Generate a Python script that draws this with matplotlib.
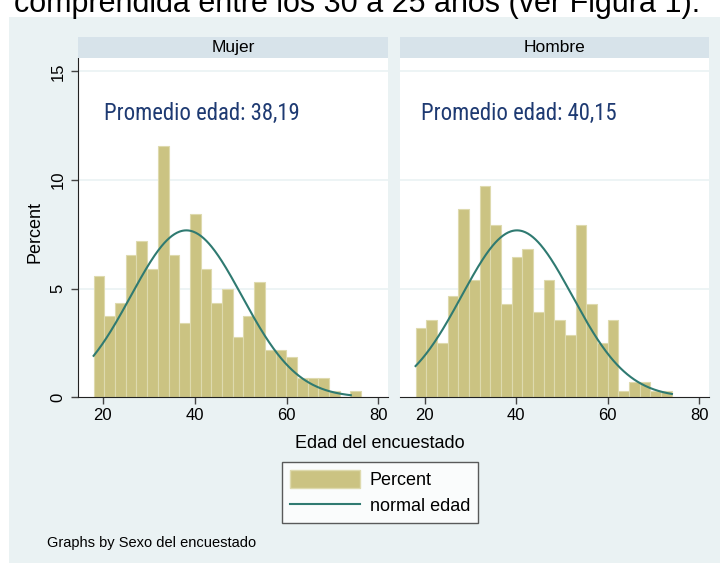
import numpy as np
import matplotlib.pyplot as plt
from matplotlib.patches import Rectangle, Patch
from matplotlib.lines import Line2D

plt.rcParams['font.family'] = ['Liberation Sans', 'DejaVu Sans']

# histogram data (percent per bin), bins start at 18 years, width ~2.33 years
bin_start = 18
bin_width = 2.33
mujer_pct = [5.60, 3.73, 4.34, 6.55, 7.18, 5.91, 11.57, 6.55, 3.41, 8.43, 5.91, 4.34, 4.99,
             2.78, 3.73, 5.29, 2.16, 2.16, 1.84, 0.88, 0.88, 0.88, 0.28, 0.0, 0.28]
hombre_pct = [3.21, 3.57, 2.49, 4.66, 8.66, 5.39, 9.74, 7.92, 4.29, 6.47, 6.82, 3.94,
              5.39, 3.57, 2.86, 7.92, 4.29, 2.49, 3.57, 0.31, 0.70, 0.70, 0.31, 0.31]

panel_titles = ['Mujer', 'Hombre']
means = [38.19, 40.15]
sds = [12.1, 12.1]
age_min = [18, 18]
age_max = [74, 74]
mean_labels = ['Promedio edad: 38,19', 'Promedio edad: 40,15']
x_ticks = [20, 40, 60, 80]
y_ticks = [0, 5, 10, 15]

bg = '#EAF2F3'
header_col = '#D7E3EA'
bar_col = '#CBC382'
bar_edge = '#DEDAAE'
line_col = '#2F7A71'
navy = '#1E3A72'

W, H = 720, 563
def fx(px):
    return px / W
def fy(py):
    return 1 - py / H

fig = plt.figure(figsize=(7.2, 5.63), dpi=100)
fig.patch.set_facecolor('white')
fig.patches.append(Rectangle((fx(9), 0), 1 - fx(9), fy(17), transform=fig.transFigure,
                             facecolor=bg, edgecolor='none', zorder=-5))

fig.text(fx(14), fy(12), 'comprendida entre los 30 a 25 años (ver Figura 1).',
         fontsize=22, va='baseline', ha='left', color='black')

panels = [(78, 388), (400, 709)]
top, bottom, head_top = 58.3, 397.3, 36.7

for i, (l, r) in enumerate(panels):
    pct = mujer_pct if i == 0 else hombre_pct
    lefts = bin_start + bin_width * np.arange(len(pct))
    ax = fig.add_axes([fx(l), fy(bottom), fx(r - l), (bottom - top) / H])
    ax.set_facecolor('white')
    for v in y_ticks[1:]:
        ax.axhline(v, color=bg, lw=1.2, zorder=0)
    ax.bar(lefts, pct, width=bin_width, align='edge', color=bar_col,
           edgecolor=bar_edge, linewidth=0.8, zorder=2)
    xs = np.linspace(age_min[i], age_max[i], 300)
    ys = bin_width * 100 * np.exp(-0.5 * ((xs - means[i]) / sds[i]) ** 2) / (sds[i] * np.sqrt(2 * np.pi))
    ax.plot(xs, ys, color=line_col, lw=1.5, zorder=3)
    ax.text(20.3 if i == 0 else 19.1, 12.77, mean_labels[i], fontsize=16.4, color=navy,
            family=['Roboto Condensed', 'Roboto', 'Liberation Sans'], va='baseline', ha='left')

    ax.set_xlim(14.6, 82.1)
    ax.set_ylim(0, 15.6)
    ax.set_xticks(x_ticks)
    ax.set_yticks(y_ticks)
    for s in ['top', 'right']:
        ax.spines[s].set_visible(False)
    ax.spines['bottom'].set_color('#222222')
    ax.spines['left'].set_color('#222222')
    ax.tick_params(axis='both', direction='out', length=5, width=1, color='#444444',
                   labelsize=12, pad=3)
    if i == 0:
        ax.tick_params(axis='y', labelrotation=90, pad=4)
        for t in ax.get_yticklabels():
            t.set_va('center')
    else:
        ax.spines['left'].set_visible(False)
        ax.tick_params(axis='y', left=False, labelleft=False)

    hax = fig.add_axes([fx(l), fy(top), fx(r - l), (top - head_top) / H])
    hax.set_facecolor(header_col)
    hax.set_xticks([])
    hax.set_yticks([])
    for s in hax.spines.values():
        s.set_visible(False)
    hax.text(0.5, 0.5, panel_titles[i], ha='center', va='center', fontsize=12.5,
             transform=hax.transAxes)

fig.text(fx(379.5), fy(443), 'Edad del encuestado', ha='center', va='center', fontsize=13)
fig.text(fx(35), fy(232), 'Percent', rotation=90, ha='center', va='center', fontsize=13)

handles = [Patch(facecolor=bar_col, edgecolor=bar_edge),
           Line2D([], [], color=line_col, lw=1.5)]
leg = fig.legend(handles, ['Percent', 'normal edad'], loc='center',
                 bbox_to_anchor=(fx(380), fy(492.5)), frameon=True, fancybox=False,
                 edgecolor='#333333', fontsize=13, handlelength=3.9, handleheight=1.15,
                 labelspacing=0.42, borderpad=0.45, handletextpad=0.55, borderaxespad=0)
leg.get_frame().set_linewidth(1)
leg.get_frame().set_facecolor('white')

fig.text(fx(47), fy(543), 'Graphs by Sexo del encuestado', ha='left', va='center', fontsize=10.5)

fig.savefig('out.png', dpi=100)
